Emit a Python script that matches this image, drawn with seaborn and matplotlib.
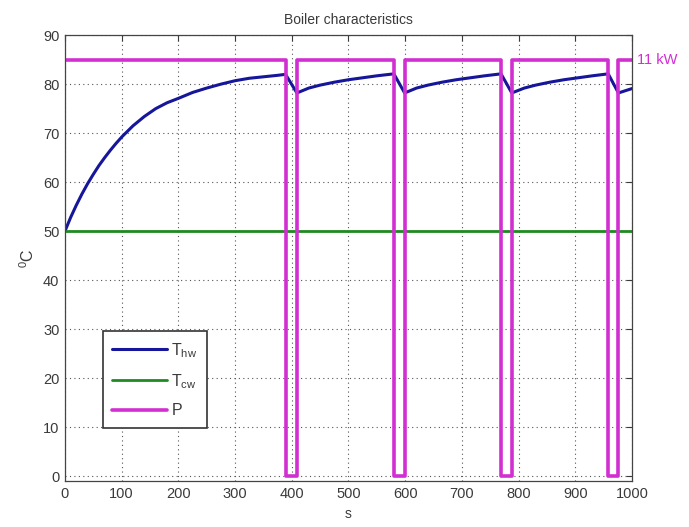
import matplotlib
matplotlib.use("Agg")
import matplotlib.pyplot as plt
import pandas as pd
import seaborn as sns

# Hot-water temperature (s, degC)
hw_time = [0, 10, 20, 30, 40, 50, 60, 70, 80, 90, 100, 120, 140, 160, 180,
           200, 225, 250, 275, 300, 325, 350, 375, 389,
           409, 430, 450, 475, 500, 525, 550, 580,
           599, 620, 640, 665, 690, 715, 740, 769,
           788, 810, 830, 855, 880, 905, 930, 958,
           976, 1000]
hw_temp = [50.0, 52.8, 55.3, 57.6, 59.7, 61.6, 63.4, 65.0, 66.5, 67.9, 69.2,
           71.5, 73.4, 75.0, 76.2, 77.1, 78.3, 79.2, 80.0, 80.7, 81.2, 81.5,
           81.8, 82.0,
           78.2, 79.2, 79.8, 80.4, 80.9, 81.3, 81.7, 82.1,
           78.2, 79.2, 79.8, 80.4, 80.9, 81.3, 81.7, 82.1,
           78.2, 79.2, 79.8, 80.4, 80.9, 81.3, 81.7, 82.1,
           78.2, 79.1]

# Cold-water temperature (s, degC)
cw_time = [0, 1000]
cw_temp = [50.0, 50.0]

# Heater power switching (s, kW)
p_time = [0, 389, 409, 580, 599, 769, 788, 958, 976, 1000]
p_kw = [11, 0, 11, 0, 11, 0, 11, 0, 11, 11]

# Power is shown on the temperature axis: 11 kW is drawn at 85
P_RATED = 11
P_DISPLAY = 85

x_ticks = list(range(0, 1001, 100))
y_ticks = list(range(0, 91, 10))

hw = pd.DataFrame({"t": hw_time, "v": hw_temp})
cw = pd.DataFrame({"t": cw_time, "v": cw_temp})
pw = pd.DataFrame({"t": p_time, "v": [k * P_DISPLAY / P_RATED for k in p_kw]})

sns.set_theme(style="white")
plt.rcParams["font.family"] = ["Liberation Sans", "DejaVu Sans"]
plt.rcParams["mathtext.fontset"] = "custom"
plt.rcParams["mathtext.rm"] = "Liberation Sans"

text_col = "#3a3a3a"
c_hw = "#16169a"
c_cw = "#1f8a1f"
c_p = "#d22fd2"

fig = plt.figure(figsize=(6.89, 5.27), dpi=100)
fig.patch.set_facecolor("white")
ax = fig.add_axes([0.0943, 0.0873, 0.823, 0.846])

sns.lineplot(data=hw, x="t", y="v", ax=ax, color=c_hw, lw=2.2,
             estimator=None, sort=False, label=r"$\mathregular{T_{hw}}$")
sns.lineplot(data=cw, x="t", y="v", ax=ax, color=c_cw, lw=2.0,
             estimator=None, sort=False, label=r"$\mathregular{T_{cw}}$")
sns.lineplot(data=pw, x="t", y="v", ax=ax, color=c_p, lw=2.6,
             estimator=None, sort=False, drawstyle="steps-post", label="P")

ax.set_xlim(0, 1000)
ax.set_ylim(-1, 90)
ax.set_xticks(x_ticks)
ax.set_yticks(y_ticks)
ax.grid(True, linestyle=(0, (1, 3)), color="#555555", linewidth=0.8)
ax.tick_params(direction="in", length=4, width=0.8, top=True, right=True,
               labelsize=10.5, colors=text_col, pad=4)
for s in ax.spines.values():
    s.set_color("#444444")
    s.set_linewidth(0.9)

ax.set_title("Boiler characteristics", fontsize=10, color=text_col, pad=8)
ax.set_xlabel("s", fontsize=10, color=text_col, labelpad=5)
ax.set_ylabel(r"$\mathregular{^0C}$", fontsize=11.5, color=text_col, labelpad=4)

ax.text(1008, P_DISPLAY, f"{P_RATED} kW", color=c_p, fontsize=10.5,
        va="center", ha="left", clip_on=False)

leg = ax.legend(loc="lower left", bbox_to_anchor=(0.0665, 0.1195),
                borderaxespad=0, fontsize=11.5, handlelength=3.4,
                handletextpad=0.3, labelspacing=0.78, borderpad=0.6,
                fancybox=False, framealpha=1, edgecolor="#333333")
leg.get_frame().set_linewidth(1.2)
for t in leg.get_texts():
    t.set_color(text_col)

fig.savefig("out.png", dpi=100, facecolor="white")
